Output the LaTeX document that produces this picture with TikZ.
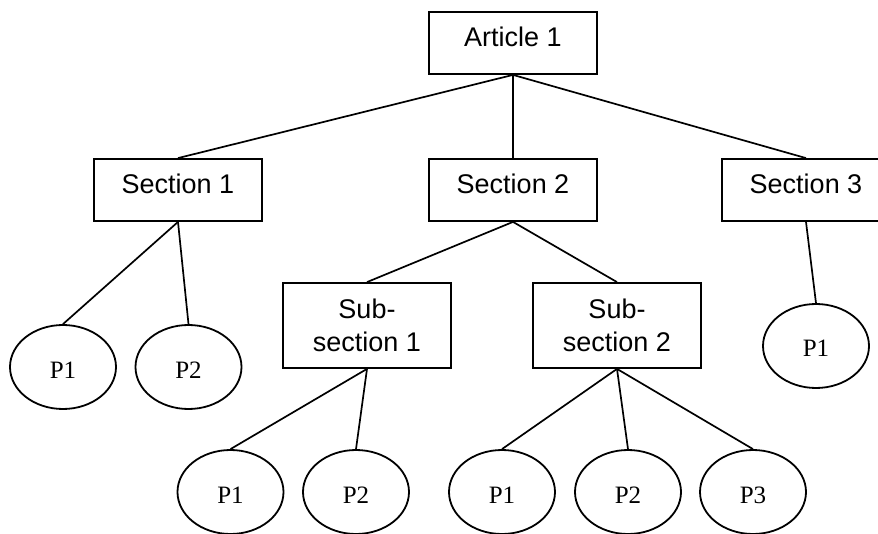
\documentclass[tikz,border=0pt]{standalone}
\usepackage{fontspec}
\setmainfont{Liberation Sans}
\newfontfamily\serifP{Liberation Serif}
\usetikzlibrary{shapes.geometric}
\tikzset{
  boxnode/.style={draw, line width=1.8pt, rectangle, minimum width=168pt, inner sep=0pt,
    font={\fontsize{27}{33}\selectfont}},
  onebox/.style={boxnode, minimum height=62pt, text height=20pt, text depth=12pt},
  twobox/.style={boxnode, minimum height=85pt, align=center},
  pnode/.style={draw, line width=1.8pt, ellipse, minimum width=106pt, minimum height=84pt,
    inner sep=0pt, font={\serifP\fontsize{25}{29}\selectfont}, text height=22pt, text depth=0pt},
  link/.style={line width=1.7pt}
}
\begin{document}
\begin{tikzpicture}[x=1pt,y=-1pt]
\useasboundingbox (0,0) rectangle (878,534);
\clip (0,0) rectangle (878,534);
\node[onebox] (art) at (513,43) {Article 1};
\node[onebox] (s1) at (178,190) {Section 1};
\node[onebox] (s2) at (513,190) {Section 2};
\node[onebox] (s3) at (806,190) {Section 3};
\node[twobox] (ss1) at (367,325.5) {Sub-\\section 1};
\node[twobox] (ss2) at (617,325.5) {Sub-\\section 2};
\node[pnode] (s1p1) at (63,367) {P1};
\node[pnode] (s1p2) at (188.5,367) {P2};
\node[pnode] (s3p1) at (816,346) {P1};
\node[pnode] (ss1p1) at (230.5,492) {P1};
\node[pnode] (ss1p2) at (356,492) {P2};
\node[pnode] (ss2p1) at (502,492) {P1};
\node[pnode] (ss2p2) at (628,492) {P2};
\node[pnode] (ss2p3) at (753,492) {P3};
\draw[link] (art.south) -- (s1.north);
\draw[link] (art.south) -- (s2.north);
\draw[link] (art.south) -- (s3.north);
\draw[link] (s1.south) -- (s1p1.north);
\draw[link] (s1.south) -- (s1p2.north);
\draw[link] (s3.south) -- (s3p1.north);
\draw[link] (s2.south) -- (ss1.north);
\draw[link] (s2.south) -- (ss2.north);
\draw[link] (ss1.south) -- (ss1p1.north);
\draw[link] (ss1.south) -- (ss1p2.north);
\draw[link] (ss2.south) -- (ss2p1.north);
\draw[link] (ss2.south) -- (ss2p2.north);
\draw[link] (ss2.south) -- (ss2p3.north);
\end{tikzpicture}
\end{document}
